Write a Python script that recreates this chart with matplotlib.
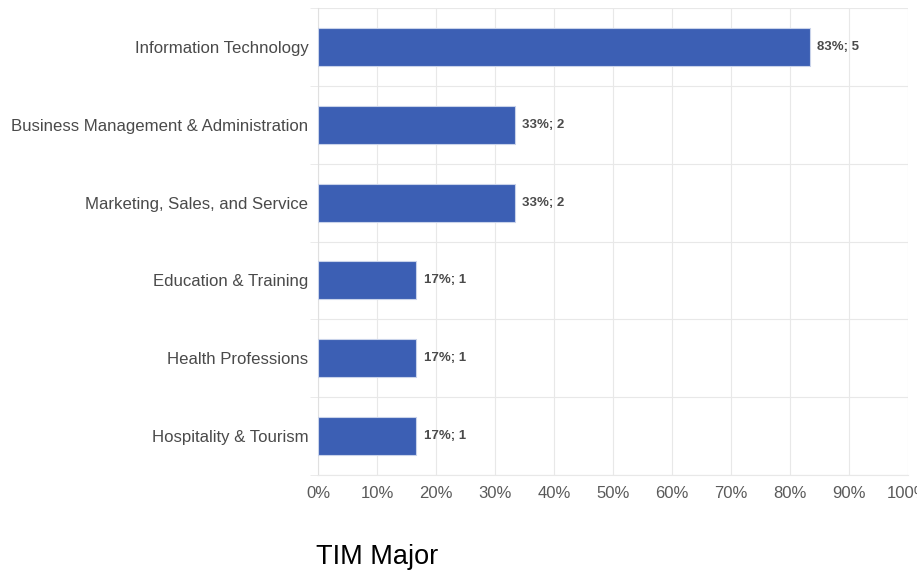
import matplotlib.pyplot as plt
from matplotlib.ticker import PercentFormatter

categories = ['Information Technology',
              'Business Management & Administration',
              'Marketing, Sales, and Service',
              'Education & Training',
              'Health Professions',
              'Hospitality & Tourism']
percents = [83.33, 33.33, 33.33, 16.67, 16.67, 16.67]
counts = [5, 2, 2, 1, 1, 1]
labels = ['83%; 5', '33%; 2', '33%; 2', '17%; 1', '17%; 1', '17%; 1']

plt.rcParams['font.family'] = ['Liberation Sans', 'DejaVu Sans']

fig = plt.figure(figsize=(9.17, 5.72), dpi=100)
ax = fig.add_axes([318/917, 1 - 475/572, 590/917, 467/572])

ypos = list(range(len(categories)))
bars = ax.barh(ypos, percents, height=0.49, color='#3c5fb4',
               edgecolor='#c9d3ea', linewidth=0.8, zorder=3)

for b, lab in zip(bars, labels):
    ax.text(b.get_width() + 1.3, b.get_y() + b.get_height() / 2, lab,
            va='center', ha='left', fontsize=9.5, fontweight='bold',
            color='#4a4a4a')

ax.set_xlim(0, 100)
ax.set_ylim(len(categories) - 0.5, -0.5)
ax.set_xticks(range(0, 101, 10))
ax.xaxis.set_major_formatter(PercentFormatter(decimals=0))
ax.set_yticks(ypos)
ax.set_yticklabels(categories)
ax.set_yticks([i + 0.5 for i in range(-1, len(categories))], minor=True)

ax.grid(axis='x', which='major', color='#e8e8e8', linewidth=0.8, zorder=0)
ax.grid(axis='y', which='minor', color='#e8e8e8', linewidth=0.8, zorder=0)
ax.tick_params(axis='y', which='major', length=0, pad=7,
               labelsize=12.1, labelcolor='#4a4a4a')
ax.tick_params(axis='y', which='minor', length=6, color='#e8e8e8')
ax.tick_params(axis='x', length=0, pad=8, labelsize=12, labelcolor='#5a5a5a')

for s in ['top', 'right']:
    ax.spines[s].set_visible(False)
ax.spines['left'].set_color('#e0e0e0')
ax.spines['bottom'].set_color('#e8e8e8')

fig.text(377/917, 1 - 557/572, 'TIM Major', ha='center', va='center',
         fontsize=19.5, color='black')

fig.savefig('out.png', dpi=100)
